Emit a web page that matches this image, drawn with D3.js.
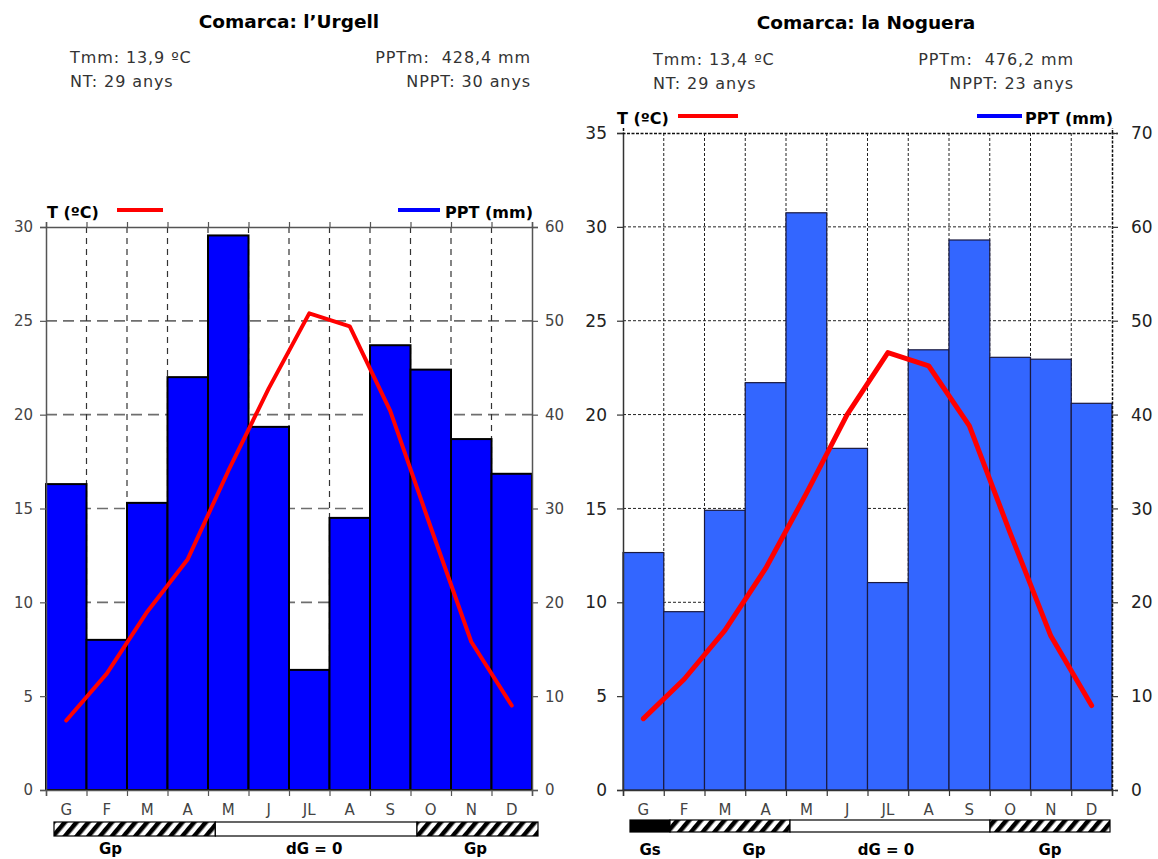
<!DOCTYPE html>
<html>
<head>
<meta charset="utf-8">
<script src="https://cdn.jsdelivr.net/npm/d3@7"></script>
<style>
body { margin: 0; background: #fff; }
text { font-family: "DejaVu Sans", Verdana, sans-serif; }
</style>
</head>
<body>
<div id="chart"></div>
<script>
var months = ["G", "F", "M", "A", "M", "J", "JL", "A", "S", "O", "N", "D"]

// l'Urgell
var pptUrgell = [32.6, 16.0, 30.6, 44.0, 59.1, 38.7, 12.8, 29.0, 47.4, 44.8, 37.4, 33.7]
var tempUrgell = [3.7, 6.2, 9.5, 12.3, 17.0, 21.4, 25.4, 24.7, 20.2, 14.0, 7.9, 4.5]
var statsUrgell = ["Tmm: 13,9 ºC", "NT: 29 anys", "PPTm:  428,4 mm", "NPPT: 30 anys"]
var tTicksUrgell = [0, 5, 10, 15, 20, 25, 30]
var pTicksUrgell = [0, 10, 20, 30, 40, 50, 60]
var stripUrgell = ["Gp", "Gp", "Gp", "Gp", "dG", "dG", "dG", "dG", "dG", "Gp", "Gp", "Gp"]
var stripLabelsUrgell = ["Gp", "dG = 0", "Gp"]
var stripLabelPosUrgell = [1.4, 6.45, 10.45]

// la Noguera
var pptNoguera = [25.3, 19.0, 29.8, 43.4, 61.5, 36.4, 22.1, 46.9, 58.6, 46.1, 45.9, 41.2]
var tempNoguera = [3.8, 5.9, 8.5, 11.8, 15.8, 20.0, 23.3, 22.6, 19.4, 13.7, 8.2, 4.5]
var statsNoguera = ["Tmm: 13,4 ºC", "NT: 29 anys", "PPTm:  476,2 mm", "NPPT: 23 anys"]
var tTicksNoguera = [0, 5, 10, 15, 20, 25, 30, 35]
var pTicksNoguera = [0, 10, 20, 30, 40, 50, 60, 70]
var stripNoguera = ["Gs", "Gp", "Gp", "Gp", "dG", "dG", "dG", "dG", "dG", "Gp", "Gp", "Gp"]
var stripLabelsNoguera = ["Gs", "Gp", "dG = 0", "Gp"]
var stripLabelPosNoguera = [0.5, 3.1, 6.4, 10.5]

var svg = d3.select("#chart")
  .append("svg")
    .attr("width", 1158)
    .attr("height", 859)

var defs = svg.append("defs")
var pat = defs.append("pattern")
    .attr("id", "hatch")
    .attr("patternUnits", "userSpaceOnUse")
    .attr("width", 9)
    .attr("height", 9)
    .attr("patternTransform", "rotate(40)")
pat.append("rect").attr("width", 9).attr("height", 9).attr("fill", "#fff")
pat.append("rect").attr("width", 4.5).attr("height", 9).attr("fill", "#000")

drawChart({
  title: "Comarca: l’Urgell", titleX: 289, titleY: 28,
  stats: statsUrgell, statsL: 70, statsR: 531, statsY: [63, 87],
  x0: 46, x1: 532, yTop: 227, yBot: 790,
  tTicks: tTicksUrgell, pTicks: pTicksUrgell,
  ppt: pptUrgell, temp: tempUrgell,
  legendY: 218, legT: [47, 117, 163], legP: [398, 440, 445, 533],
  barFill: "#0000ff", barStroke: "#000", barStrokeW: 2,
  hGrid: {color: "#6e6e6e", width: 1.6, dash: "11,6"},
  vGrid: {color: "#333", width: 1.2, dash: "6,5"},
  frameDash: null,
  axisColor: "#555", tickFont: 15, tickColor: "#444",
  leftLabelX: 33, rightLabelX: 545, lineW: 4,
  strip: stripUrgell, stripX: [54, 538], stripY: [822, 836],
  stripLabels: stripLabelsUrgell, stripLabelPos: stripLabelPosUrgell, stripLabelY: 854
})

drawChart({
  title: "Comarca: la Noguera", titleX: 866, titleY: 29,
  stats: statsNoguera, statsL: 653, statsR: 1074, statsY: [65, 89],
  x0: 623, x1: 1112, yTop: 133, yBot: 790,
  tTicks: tTicksNoguera, pTicks: pTicksNoguera,
  ppt: pptNoguera, temp: tempNoguera,
  legendY: 124, legT: [617, 678, 738], legP: [977, 1022, 1026, 1113],
  barFill: "#3366ff", barStroke: "#1a1a40", barStrokeW: 1.2,
  hGrid: {color: "#222", width: 1, dash: "3,2"},
  vGrid: {color: "#222", width: 1, dash: "3,2"},
  frameDash: "3,1.5",
  axisColor: "#333", tickFont: 17, tickColor: "#222",
  leftLabelX: 607, rightLabelX: 1131, lineW: 5,
  strip: stripNoguera, stripX: [630, 1110], stripY: [820, 832],
  stripLabels: stripLabelsNoguera, stripLabelPos: stripLabelPosNoguera, stripLabelY: 855
})

function drawChart(c) {
  var g = svg.append("g")
  var idx = d3.range(months.length)

  var x = d3.scaleBand().domain(idx).range([c.x0, c.x1]).padding(0)
  var tMax = d3.max(c.tTicks), pMax = d3.max(c.pTicks)
  var yT = d3.scaleLinear().domain([0, tMax]).range([c.yBot, c.yTop])
  var yP = d3.scaleLinear().domain([0, pMax]).range([c.yBot, c.yTop])

  // title + stats
  g.append("text")
    .attr("x", c.titleX).attr("y", c.titleY)
    .attr("text-anchor", "middle")
    .style("font-size", "18.5px").style("font-weight", "bold")
    .text(c.title)
  var st = [[c.statsL, c.statsY[0], "start"], [c.statsL, c.statsY[1], "start"],
            [c.statsR, c.statsY[0], "end"], [c.statsR, c.statsY[1], "end"]]
  st.forEach(function (p, i) {
    g.append("text").attr("x", p[0]).attr("y", p[1]).attr("fill", "#333")
      .attr("text-anchor", p[2])
      .style("font-size", "16px").style("letter-spacing", "0.9px").style("white-space", "pre")
      .text(c.stats[i])
  })

  // legend
  g.append("text").attr("x", c.legT[0]).attr("y", c.legendY)
    .style("font-size", "16px").style("font-weight", "bold")
    .text("T (ºC)")
  g.append("line").attr("x1", c.legT[1]).attr("x2", c.legT[2])
    .attr("y1", c.legendY - 8).attr("y2", c.legendY - 8)
    .attr("stroke", "#ff0000").attr("stroke-width", 4)
  g.append("line").attr("x1", c.legP[0]).attr("x2", c.legP[1])
    .attr("y1", c.legendY - 8).attr("y2", c.legendY - 8)
    .attr("stroke", "#0000ff").attr("stroke-width", 4)
  g.append("text").attr("x", c.legP[3]).attr("y", c.legendY)
    .attr("text-anchor", "end")
    .style("font-size", "16px").style("font-weight", "bold")
    .text("PPT (mm)")

  // grid
  g.append("g").selectAll("line")
    .data(c.tTicks.filter(function (d) { return d > 0 && d < tMax }))
    .enter().append("line")
      .attr("x1", c.x0).attr("x2", c.x1)
      .attr("y1", function (d) { return yT(d) }).attr("y2", function (d) { return yT(d) })
      .attr("stroke", c.hGrid.color).attr("stroke-width", c.hGrid.width)
      .attr("stroke-dasharray", c.hGrid.dash)
  g.append("g").selectAll("line")
    .data(idx.slice(1))
    .enter().append("line")
      .attr("x1", function (d) { return x(d) }).attr("x2", function (d) { return x(d) })
      .attr("y1", c.yTop).attr("y2", c.yBot)
      .attr("stroke", c.vGrid.color).attr("stroke-width", c.vGrid.width)
      .attr("stroke-dasharray", c.vGrid.dash)

  // bars
  g.append("g").selectAll("rect")
    .data(c.ppt)
    .enter().append("rect")
      .attr("x", function (d, i) { return x(i) })
      .attr("y", function (d) { return yP(d) })
      .attr("width", x.bandwidth())
      .attr("height", function (d) { return c.yBot - yP(d) })
      .attr("fill", c.barFill)
      .attr("stroke", c.barStroke)
      .attr("stroke-width", c.barStrokeW)

  // frame + axes
  var xb = d3.scaleLinear().domain([0, months.length]).range([c.x0, c.x1])
  var axL = g.append("g").attr("transform", "translate(" + c.x0 + ",0)")
    .call(d3.axisLeft(yT).tickValues(c.tTicks).tickSize(6).tickFormat(""))
  var axR = g.append("g").attr("transform", "translate(" + c.x1 + ",0)")
    .call(d3.axisRight(yP).tickValues(c.pTicks).tickSize(6).tickFormat(""))
  var axB = g.append("g").attr("transform", "translate(0," + c.yBot + ")")
    .call(d3.axisBottom(xb).tickValues(d3.range(months.length + 1)).tickSize(6).tickFormat(""))
  var axT = g.append("g").attr("transform", "translate(0," + c.yTop + ")")
    .call(d3.axisTop(xb).tickValues(d3.range(months.length + 1)).tickSize(5).tickFormat(""))
  ;[axL, axR, axB, axT].forEach(function (a) {
    a.selectAll("path").attr("stroke", c.axisColor).attr("stroke-width", 1.5)
    a.selectAll("line").attr("stroke", c.axisColor).attr("stroke-width", 1.2)
  })
  if (c.frameDash) {
    axT.select("path").attr("stroke-dasharray", c.frameDash).attr("stroke", "#111")
    axR.select("path").attr("stroke-dasharray", c.frameDash).attr("stroke", "#111")
    axT.selectAll("line").remove()
  }

  g.append("g").selectAll("text")
    .data(c.tTicks).enter().append("text")
      .attr("x", c.leftLabelX).attr("y", function (d) { return yT(d) + c.tickFont * 0.36 })
      .attr("text-anchor", "end").attr("fill", c.tickColor)
      .style("font-size", c.tickFont + "px")
      .text(function (d) { return d })
  g.append("g").selectAll("text")
    .data(c.pTicks).enter().append("text")
      .attr("x", c.rightLabelX).attr("y", function (d) { return yP(d) + c.tickFont * 0.36 })
      .attr("fill", c.tickColor)
      .style("font-size", c.tickFont + "px")
      .text(function (d) { return d })

  // month labels
  g.append("g").selectAll("text")
    .data(months).enter().append("text")
      .attr("x", function (d, i) { return x(i) + x.bandwidth() / 2 })
      .attr("y", c.yBot + 25)
      .attr("text-anchor", "middle").attr("fill", "#444")
      .style("font-size", "15px")
      .text(function (d) { return d })

  // temperature line
  g.append("path")
    .datum(c.temp)
    .attr("fill", "none")
    .attr("stroke", "#ff0000")
    .attr("stroke-width", c.lineW)
    .attr("stroke-linejoin", "round")
    .attr("stroke-linecap", "round")
    .attr("d", d3.line()
      .x(function (d, i) { return x(i) + x.bandwidth() / 2 })
      .y(function (d) { return yT(d) }))

  // bottom strip
  var xs = d3.scaleBand().domain(idx).range(c.stripX).padding(0)
  var fills = {Gp: "url(#hatch)", dG: "#fff", Gs: "#000"}
  var runs = []
  c.strip.forEach(function (s, i) {
    if (runs.length && runs[runs.length - 1].k === s) runs[runs.length - 1].n++
    else runs.push({k: s, i: i, n: 1})
  })
  g.append("g").selectAll("rect")
    .data(runs).enter().append("rect")
      .attr("x", function (d) { return xs(d.i) })
      .attr("y", c.stripY[0])
      .attr("width", function (d) { return xs.bandwidth() * d.n })
      .attr("height", c.stripY[1] - c.stripY[0])
      .attr("fill", function (d) { return fills[d.k] })
      .attr("stroke", "#000").attr("stroke-width", 1.2)
  g.append("g").selectAll("text")
    .data(c.stripLabels).enter().append("text")
      .attr("x", function (d, i) { return c.stripX[0] + xs.bandwidth() * c.stripLabelPos[i] })
      .attr("y", c.stripLabelY)
      .attr("text-anchor", "middle")
      .style("font-size", "15px").style("font-weight", "bold")
      .style("white-space", "pre")
      .text(function (d) { return d })
}
</script>
</body>
</html>
